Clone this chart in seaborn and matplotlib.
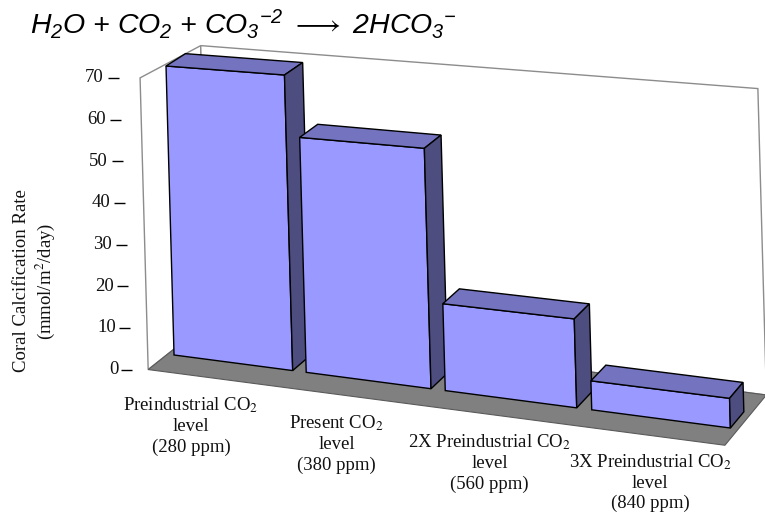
import numpy as np
import pandas as pd
import matplotlib
matplotlib.use("Agg")
import matplotlib.pyplot as plt
import seaborn as sns
from matplotlib import transforms as mtransforms
from matplotlib.patches import Polygon

# ---------------- data ----------------
categories = ["Preindustrial", "Present", "2X Preindustrial", "3X Preindustrial"]
rates = [70, 55.5, 20, 6.5]
tick_labels = [
    "Preindustrial CO$_2$\nlevel\n(280 ppm)",
    "Present CO$_2$\nlevel\n(380 ppm)",
    "2X Preindustrial CO$_2$\nlevel\n(560 ppm)",
    "3X Preindustrial CO$_2$\nlevel\n(840 ppm)",
]
y_ticks = [0, 10, 20, 30, 40, 50, 60, 70]
y_label = "Coral Calcification Rate\n(mmol/m$^2$/day)"
title = r"$H_2O$ + $CO_2$ + $CO_3{}^{-2}$ $\longrightarrow$ $2HCO_3{}^{-}$"

# ---------------- style ----------------
sns.set_style("white")
plt.rcParams["font.family"] = ["Liberation Serif", "DejaVu Serif"]
plt.rcParams["mathtext.fontset"] = "custom"
plt.rcParams["mathtext.it"] = "Liberation Sans:italic"
plt.rcParams["mathtext.rm"] = "Liberation Sans:italic"
plt.rcParams["mathtext.fallback"] = "stixsans"

FRONT = "#9999FF"
TOP = "#7373BF"
SIDE = "#4D4D80"
FLOOR = "#808080"
WALL_EDGE = "#8C8C8C"

W_PX, H_PX = 765, 513
fig = plt.figure(figsize=(W_PX / 100, H_PX / 100), dpi=100)
ax = fig.add_axes([0, 0, 1, 1])
ax.set_axis_off()

# pixel (top-origin) -> display
pix = mtransforms.Affine2D().scale(0.01, -0.01).translate(0, H_PX / 100) + fig.dpi_scale_trans

# ---------------- pseudo-3D projection ----------------
VP = (2000.0, -1100.0)   # depth vanishing point (pixels)
DEPTH_K = 0.0106


def project(x, y, z=0.0):
    x = np.asarray(x, float)
    y = np.asarray(y, float)
    w = 1 - 0.025 * x
    X = (232.7 + 126.0 * x - 0.116 * y) / w
    Y = (362.7 + 8.23 * x - 4.175 * y) / w
    g = DEPTH_K * np.asarray(z, float)
    X = X + (VP[0] - X) * g
    Y = Y + (VP[1] - Y) * g
    return np.column_stack([np.atleast_1d(X), np.atleast_1d(Y)])


class Proj(mtransforms.Transform):
    input_dims = 2
    output_dims = 2
    has_inverse = False

    def __init__(self, z=0.0):
        super().__init__()
        self.z = z

    def transform_non_affine(self, values):
        v = np.asarray(values, float).reshape(-1, 2)
        return project(v[:, 0], v[:, 1], self.z)


XL, XR = -0.5, 3.5
ZF, ZB = -1.0, 2.1
YMAX = y_ticks[-1]


def poly(pts, **kw):
    p = Polygon(np.vstack(pts), closed=True, transform=pix, clip_on=False, **kw)
    ax.add_patch(p)
    return p


# walls
poly([project(XL, 0, ZF), project(XL, YMAX, ZF), project(XL, YMAX - 1.5, ZB), project(XL, 0, ZB)],
     facecolor="white", edgecolor=WALL_EDGE, linewidth=1.0, zorder=1)
poly([project(XL, 0, ZB), project(XR, 0, ZB), project(XR, YMAX - 1.5, ZB), project(XL, YMAX - 1.5, ZB)],
     facecolor="white", edgecolor=WALL_EDGE, linewidth=1.0, zorder=1)
# floor
poly([project(XL, 0, ZF), project(XR, 0, ZF), project(XR, 0, ZB), project(XL, 0, ZB)],
     facecolor=FLOOR, edgecolor="#5a5a5a", linewidth=0.8, zorder=2)

# ---------------- bars (seaborn) ----------------
df = pd.DataFrame({"category": categories, "rate": rates})
sns.barplot(data=df, x="category", y="rate", order=categories, ax=ax,
            color=FRONT, saturation=1, width=0.9, errorbar=None,
            edgecolor="black", linewidth=1.0)
ax.set_axis_off()

front_tr = Proj(0.0) + pix
for i, bar in enumerate(ax.containers[0]):
    xl = bar.get_x()
    xr = xl + bar.get_width()
    h = bar.get_height()
    bar.set_transform(front_tr)
    bar.set_clip_on(False)
    bar.set_zorder(10 + 3 * i)
    poly([project(xl, h, 0), project(xr, h, 0), project(xr, h, 1), project(xl, h, 1)],
         facecolor=TOP, edgecolor="black", linewidth=1.0, zorder=11 + 3 * i)
    poly([project(xr, 0, 0), project(xr, h, 0), project(xr, h, 1), project(xr, 0, 1)],
         facecolor=SIDE, edgecolor="black", linewidth=1.0, zorder=12 + 3 * i)

# ---------------- y axis (ticks on wall edge) ----------------
for v in y_ticks:
    ax_, ay_ = project(XL, v, ZF)[0]
    x0 = ax_ - 27 - 0.07 * v
    ax.plot([x0, x0 + 11], [ay_, ay_], color="black", lw=1.0, transform=pix,
            clip_on=False, solid_capstyle="butt")
    ax.text(ax_ - 29.5 - 0.1 * v, ay_, f"{v}", transform=pix, ha="right", va="center",
            fontsize=13.5, color="#111111")

ax.text(35, 281, y_label, transform=pix, rotation=90, ha="center", va="center",
        multialignment="center", fontsize=13.5, linespacing=1.25, math_fontfamily="stix",
        color="#111111")

# ---------------- category labels ----------------
for i, lab in enumerate(tick_labels):
    bx, by = project(i, 0, ZF)[0]
    ax.text(bx - 23 + 9 * i, by + 17, lab, transform=pix, ha="center", va="top",
            multialignment="center", fontsize=13.5, linespacing=1.25,
            math_fontfamily="stix", color="#111111")

# ---------------- title (chemical equation) ----------------
ax.text(30, 34, title, transform=pix,
        ha="left", va="baseline", fontsize=20.5, fontfamily="Liberation Sans",
        fontstyle="italic", math_fontfamily="custom", color="black")

ax.set_xlim(0, 1)
ax.set_ylim(0, 1)
fig.savefig("out.png", dpi=100)
